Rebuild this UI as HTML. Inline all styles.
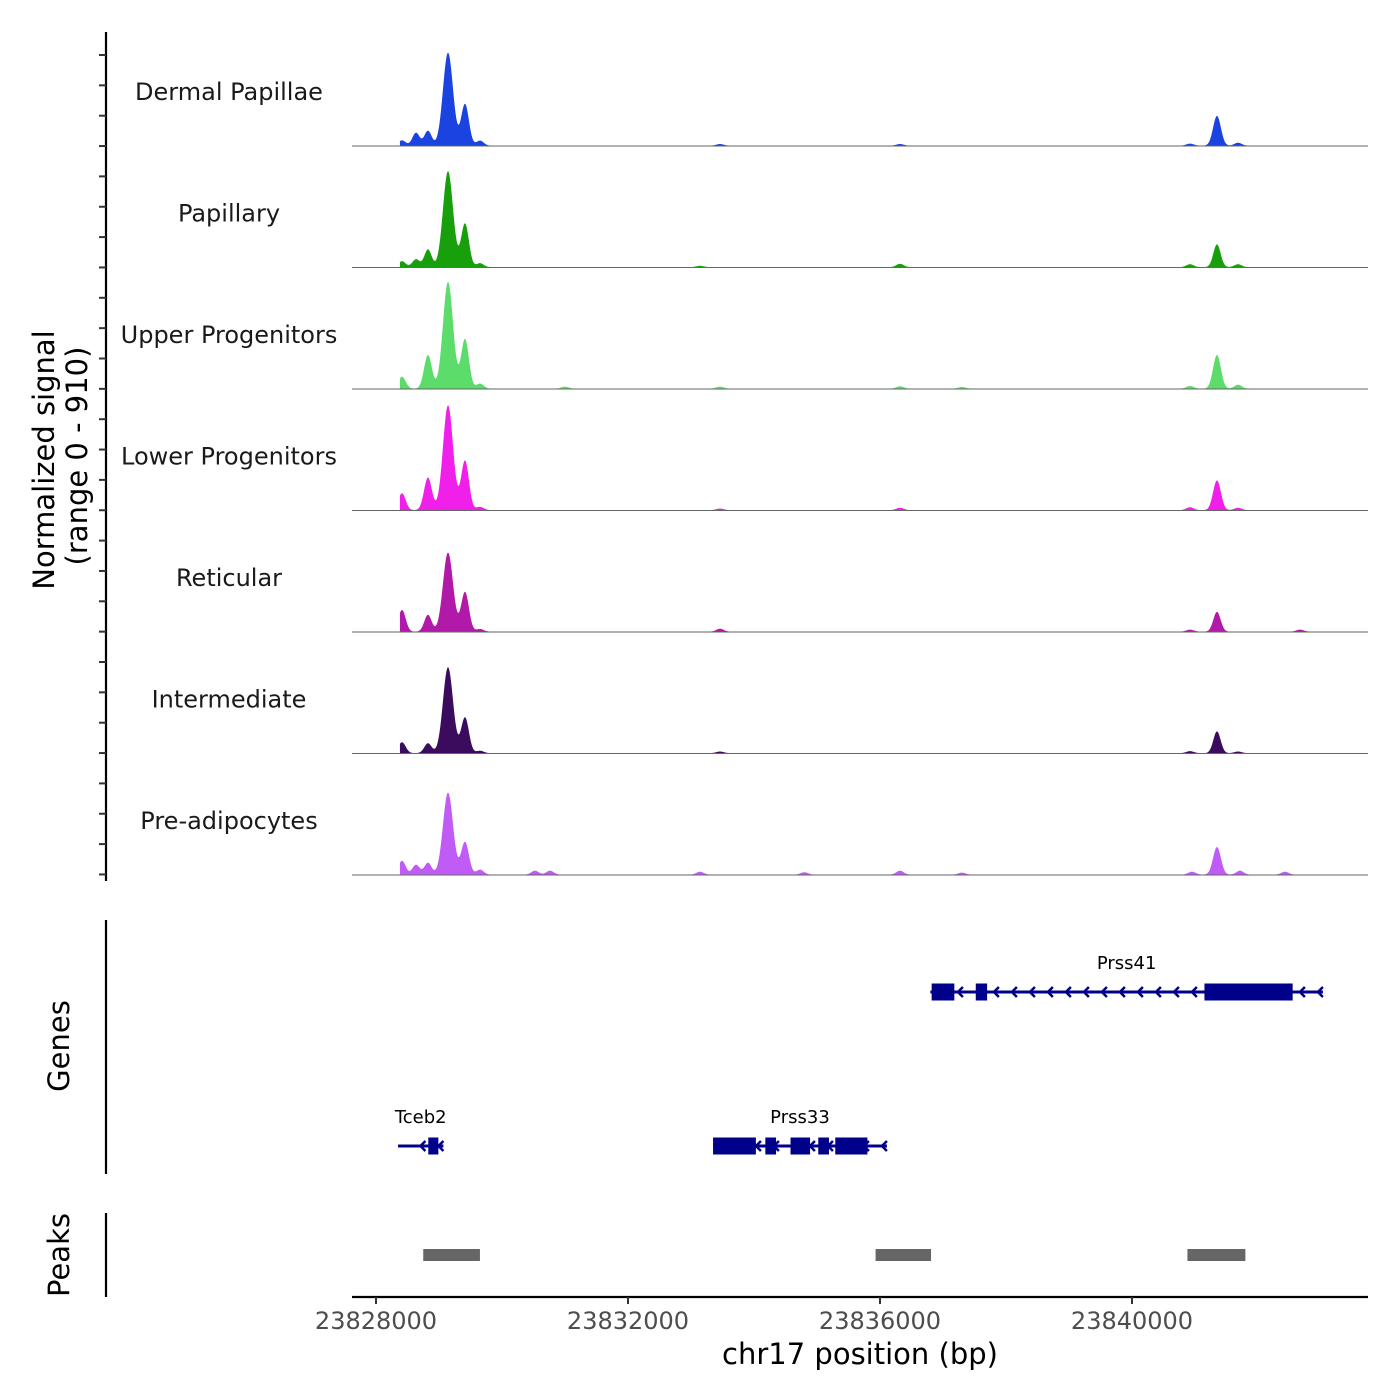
<!DOCTYPE html>
<html><head><meta charset="utf-8">
<style>
html,body{margin:0;padding:0;background:#fff;}
svg{display:block;font-family:"DejaVu Sans","Liberation Sans",sans-serif;}
</style></head>
<body>
<svg id="chart" width="1400" height="1400" viewBox="0 0 1400 1400" xmlns="http://www.w3.org/2000/svg">
<g id="tracks"></g>
<g id="yaxis"></g>
<text transform="translate(54,460) rotate(-90)" text-anchor="middle" font-size="29" fill="#000">Normalized signal</text>
<text transform="translate(87,456) rotate(-90)" text-anchor="middle" font-size="29" fill="#000">(range 0 - 910)</text>
<line x1="106" y1="920" x2="106" y2="1174" stroke="#000" stroke-width="2.2"/>
<text transform="translate(69,1046) rotate(-90)" text-anchor="middle" font-size="29" fill="#000">Genes</text>
<g id="genes"></g>
<line x1="106" y1="1213" x2="106" y2="1297" stroke="#000" stroke-width="2.2"/>
<text transform="translate(69,1255) rotate(-90)" text-anchor="middle" font-size="29" fill="#000">Peaks</text>
<g id="peaks"></g>
<g id="xaxis"></g>
<text x="860" y="1364" text-anchor="middle" font-size="29" fill="#000">chr17 position (bp)</text>
</svg>
<script>
const trackNames = ["Dermal Papillae","Papillary","Upper Progenitors","Lower Progenitors","Reticular","Intermediate","Pre-adipocytes"];
const trackColors = ["#1b43e0","#18a00c","#5cdc6a","#f01fea","#b119a9","#3b0b5e","#c05bf6"];
// peak centers (bp) and heights (signal units, 0-910) per track
const peakPos1 = [23828413,23828635,23828825,23829143,23829413,23829651,23833460,23836317,23840921,23841349,23841683];
const peakVal1 = [40,98,113,707,316,38,12,12,15,226,22];
const peakPos2 = [23828413,23828635,23828825,23829143,23829413,23829651,23833143,23836317,23840921,23841349,23841683];
const peakVal2 = [45,60,135,730,331,30,10,25,22,173,22];
const peakPos3 = [23828413,23828825,23829143,23829413,23829651,23831000,23833460,23836317,23837300,23840921,23841349,23841683];
const peakVal3 = [90,256,812,376,38,15,15,18,12,20,256,30];
const peakPos4 = [23828413,23828825,23829143,23829413,23829651,23833460,23836317,23840921,23841349,23841683];
const peakVal4 = [128,248,797,376,25,12,18,22,226,18];
const peakPos5 = [23828413,23828825,23829143,23829413,23829651,23833460,23840921,23841349,23842667];
const peakVal5 = [165,128,602,301,20,22,15,150,15];
const peakPos6 = [23828413,23828825,23829143,23829413,23829651,23833460,23840921,23841349,23841683];
const peakVal6 = [83,75,654,271,18,12,15,165,12];
const peakPos7 = [23828413,23828635,23828825,23829143,23829413,23829651,23830524,23830762,23833143,23834800,23836317,23837300,23840952,23841349,23841714,23842429];
const peakVal7 = [105,75,90,624,248,38,30,30,22,18,30,15,22,210,30,22];
const peakPos = [peakPos1,peakPos2,peakPos3,peakPos4,peakPos5,peakPos6,peakPos7];
const peakVal = [peakVal1,peakVal2,peakVal3,peakVal4,peakVal5,peakVal6,peakVal7];
const xTicks = [23828000,23832000,23836000,23840000];
const xTickLabels = ["23828000","23832000","23836000","23840000"];
// genes: [start, end], exons, label
const geneNames = ["Prss41","Tceb2","Prss33"];
const geneStarts = [23836800,23828350,23833350];
const geneEnds = [23843030,23829070,23836110];
const geneRows = [0,1,1];
const geneExons = [
 [[23836820,23837180],[23837520,23837700],[23841150,23842550]],
 [[23828830,23828990]],
 [[23833350,23834030],[23834180,23834350],[23834580,23834890],[23835020,23835190],[23835290,23835800]]
];
const peakStarts = [23828750,23835930,23840880];
const peakEnds = [23829650,23836810,23841800];

const NS="http://www.w3.org/2000/svg";
function mk(tag,attrs,parent){const e=document.createElementNS(NS,tag);for(const k in attrs)e.setAttribute(k,attrs[k]);parent.appendChild(e);return e;}
const x = bp => 376 + (bp-23828000)*0.063;
const trackH = 121.5, top0 = 24.5;
const yScale = v => v*(trackH-2)/910;
const sigStart=23828380, sigEnd=23843030;

const tracks=document.getElementById('tracks');
for(let t=0;t<7;t++){
  const base = top0 + trackH*(t+1);
  const g=mk('g',{},tracks);
  
  
  let d='M'+x(sigStart)+','+base;
  for(let bp=sigStart;bp<=sigEnd;bp+=6){
    let v=3;
    for(let i=0;i<peakPos[t].length;i++){
      const w = peakVal[t][i]>400?80:(peakVal[t][i]>200?62:58);
      const dd=(bp-peakPos[t][i])/w; v+=peakVal[t][i]*Math.exp(-dd*dd/2);
    }
    d+=' L'+x(bp).toFixed(2)+','+(base-yScale(v)).toFixed(2);
  }
  d+=' L'+x(sigEnd)+','+base+' Z';
  const p=mk('path',{d:d,fill:trackColors[t]},g);
  
  
  const bl=mk('line',{x1:352,x2:1368,y1:base,y2:base,stroke:'#666','stroke-width':1},g);
  
  
  const lb=mk('text',{x:229,y:base-46,'text-anchor':'middle','font-size':24,fill:'#1a1a1a'},g);
  lb.textContent=trackNames[t];
  
  
}
const ya=document.getElementById('yaxis');
mk('line',{x1:106,y1:32,x2:106,y2:881,stroke:'#000','stroke-width':2.2},ya);
for(let y=55;y<880;y+=30.35){
  const tk=mk('line',{x1:99,x2:106,y1:y,y2:y,stroke:'#333','stroke-width':2},ya);
  
  
}
const gg=document.getElementById('genes');
const rowY=[992,1146];
const col='#00008b';
for(let i=0;i<geneNames.length;i++){
  const y=rowY[geneRows[i]];
  const g=mk('g',{},gg);
  
  
  const x1=x(geneStarts[i]), x2=x(geneEnds[i]);
  mk('line',{x1:x1,x2:x2,y1:y,y2:y,stroke:col,'stroke-width':3},g);
  for(let ax=x2-4;ax>x1+6;ax-=18){
    mk('path',{d:`M${ax+4},${y-5} L${ax-1},${y} L${ax+4},${y+5}`,fill:'none',stroke:col,'stroke-width':2.5},g);
  }
  for(const e of geneExons[i]){
    mk('rect',{x:x(e[0]),y:y-8.5,width:x(e[1])-x(e[0]),height:17,fill:col},g);
  }
  const lt=mk('text',{x:(x1+x2)/2,y:y-23,'text-anchor':'middle','font-size':18,fill:'#000'},g);
  lt.textContent=geneNames[i];
  
  
}
const pg=document.getElementById('peaks');
for(let i=0;i<peakStarts.length;i++){
  const r=mk('rect',{x:x(peakStarts[i]),y:1249,width:x(peakEnds[i])-x(peakStarts[i]),height:12,fill:'#666'},pg);
  
  
}
const xa=document.getElementById('xaxis');
mk('line',{x1:352,x2:1368,y1:1297,y2:1297,stroke:'#000','stroke-width':2.2},xa);
for(let i=0;i<xTicks.length;i++){
  const tx=x(xTicks[i]);
  const tk=mk('line',{x1:tx,x2:tx,y1:1297,y2:1304,stroke:'#333','stroke-width':2},xa);
  
  
  const tl=mk('text',{x:tx,y:1329,'text-anchor':'middle','font-size':24,fill:'#4d4d4d'},xa);
  tl.textContent=xTickLabels[i];
  
  
}
</script>
</body></html>
